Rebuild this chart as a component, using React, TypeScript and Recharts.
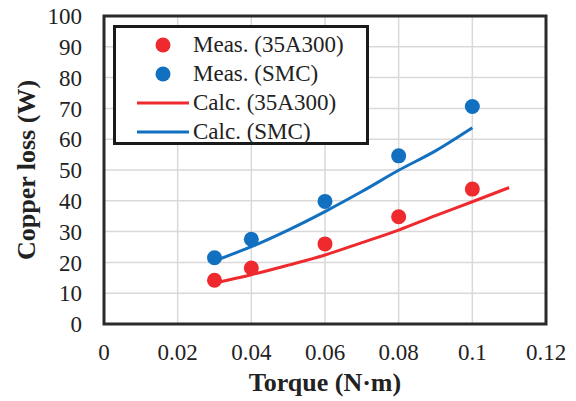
import { ComposedChart, Scatter, Line, XAxis, YAxis, CartesianGrid, ReferenceArea, Label } from 'recharts';

const RED = '#ee2a2e';
const BLUE = '#1170c0';
const FONT = '"Liberation Serif", "Times New Roman", serif';

// measured points
const measTorque = [0.03, 0.04, 0.06, 0.08, 0.1];
const meas35A300 = [14.2, 18.2, 26, 34.8, 43.8];
const measSMC = [21.5, 27.5, 39.8, 54.6, 70.6];

// calculated curves
const calcTorque35A300 = [0.03, 0.04, 0.05, 0.06, 0.07, 0.08, 0.09, 0.1, 0.11];
const calc35A300 = [13.3, 16.0, 19.1, 22.4, 26.4, 30.5, 35.2, 39.7, 44.3];
const calcTorqueSMC = [0.03, 0.04, 0.05, 0.06, 0.07, 0.08, 0.09, 0.1];
const calcSMC = [20.5, 25.1, 30.5, 36.5, 43.0, 49.9, 56.2, 63.7];

const xTicks = [0, 0.02, 0.04, 0.06, 0.08, 0.1, 0.12];
const yTicks = [0, 10, 20, 30, 40, 50, 60, 70, 80, 90, 100];

const legendItems = [
  { label: 'Meas. (35A300)', color: RED, kind: 'dot' },
  { label: 'Meas. (SMC)', color: BLUE, kind: 'dot' },
  { label: 'Calc. (35A300)', color: RED, kind: 'line' },
  { label: 'Calc. (SMC)', color: BLUE, kind: 'line' },
];

const toPoints = (xs: number[], ys: number[]) => xs.map((x, i) => ({ x, y: ys[i] }));

const dot = (color: string) => (p: any) => <circle cx={p.cx} cy={p.cy} r={7.5} fill={color} />;

// legend drawn as an overlay so it doesn't shrink the plot
function LegendBox() {
  return (
    <div
      style={{
        position: 'absolute',
        left: 113,
        top: 25,
        boxSizing: 'border-box',
        width: 256,
        height: 120,
        border: '3px solid #1a1a1a',
        background: '#fff',
        padding: '2px 0 0 20px',
        fontFamily: FONT,
        fontSize: 23,
        color: '#222',
      }}
    >
      {legendItems.map((item) => (
        <div key={item.label} style={{ display: 'flex', alignItems: 'center', height: 29 }}>
          <svg width={54} height={20} style={{ marginRight: 3 }}>
            {item.kind === 'dot' ? (
              <circle cx={27} cy={10} r={7.5} fill={item.color} />
            ) : (
              <line x1={1} y1={10} x2={53} y2={10} stroke={item.color} strokeWidth={3} />
            )}
          </svg>
          <span style={{ whiteSpace: 'nowrap' }}>{item.label}</span>
        </div>
      ))}
    </div>
  );
}

export default function App() {
  const tickStyle = { fontFamily: FONT, fontSize: 23, fill: '#222' };
  return (
    <div style={{ position: 'absolute', left: 0, top: 0, width: 576, height: 401, background: '#fff' }}>
      <ComposedChart width={576} height={401} margin={{ top: 16, right: 30, left: 0, bottom: 0 }}>
        <CartesianGrid stroke="#d9d9d9" strokeWidth={1.5} />
        <XAxis
          type="number"
          dataKey="x"
          domain={[0, 0.12]}
          ticks={xTicks}
          height={77}
          tickLine={false}
          axisLine={false}
          tickSize={0}
          tickMargin={20}
          tick={tickStyle}
          interval={0}
        >
          <Label
            value="Torque (N·m)"
            position="insideBottom"
            offset={10}
            style={{ fontFamily: FONT, fontSize: 26, fontWeight: 'bold', fill: '#222' }}
          />
        </XAxis>
        <YAxis
          type="number"
          dataKey="y"
          domain={[0, 100]}
          ticks={yTicks}
          width={104}
          tickLine={false}
          axisLine={false}
          tickSize={0}
          tickMargin={22}
          tick={tickStyle}
          interval={0}
        >
          <Label
            value="Copper loss (W)"
            angle={-90}
            position="insideLeft"
            offset={26}
            style={{ textAnchor: 'middle', fontFamily: FONT, fontSize: 26, fontWeight: 'bold', fill: '#222' }}
          />
        </YAxis>
        <ReferenceArea x1={0} x2={0.12} y1={0} y2={100} fill="none" stroke="#2a2a2a" strokeWidth={3} ifOverflow="visible" />
        <Line
          data={toPoints(calcTorque35A300, calc35A300)}
          dataKey="y"
          type="monotone"
          stroke={RED}
          strokeWidth={3}
          dot={false}
          activeDot={false}
          isAnimationActive={false}
        />
        <Line
          data={toPoints(calcTorqueSMC, calcSMC)}
          dataKey="y"
          type="monotone"
          stroke={BLUE}
          strokeWidth={3}
          dot={false}
          activeDot={false}
          isAnimationActive={false}
        />
        <Scatter data={toPoints(measTorque, meas35A300)} dataKey="y" fill={RED} shape={dot(RED)} isAnimationActive={false} />
        <Scatter data={toPoints(measTorque, measSMC)} dataKey="y" fill={BLUE} shape={dot(BLUE)} isAnimationActive={false} />
      </ComposedChart>
      <LegendBox />
    </div>
  );
}
